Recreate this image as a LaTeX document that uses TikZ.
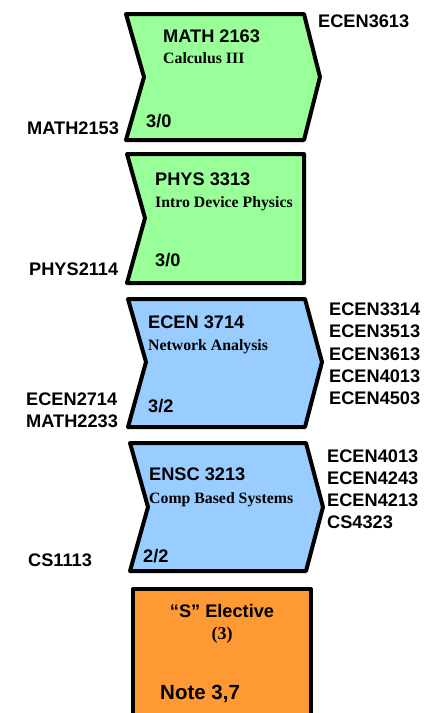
\documentclass[tikz,border=0pt]{standalone}
\usepackage{fontspec}
\setmainfont{Liberation Sans}
\newfontfamily\serifb{Liberation Serif}
\definecolor{cgreen}{HTML}{99FF99}
\definecolor{cblue}{HTML}{99CCFF}
\definecolor{corange}{HTML}{FF9933}
\tikzset{
  box/.style={line width=4pt, line join=round, draw=black},
  sanslab/.style={font=\fontsize{18.2}{20}\selectfont\bfseries, anchor=base west, inner sep=0pt},
  sublab/.style={font=\serifb\fontsize{15.8}{17}\selectfont\bfseries, anchor=base west, inner sep=0pt},
  notelab/.style={font=\fontsize{20.5}{22}\selectfont\bfseries, anchor=base west, inner sep=0pt},
}
\begin{document}
\begin{tikzpicture}[x=1pt,y=-1pt]
\useasboundingbox (0,0) rectangle (431,713);
% Box 1: MATH 2163
\draw[box, fill=cgreen] (126,14) -- (304,14) -- (320,77) -- (304,140) -- (126,140) -- (144,77) -- cycle;
\node[sanslab] (m2163) at (163,42) {MATH 2163};
\node[sublab] (calc) at (163,63) {Calculus III};
\node[sanslab] (cr1) at (146,127) {3/0};
\node[sanslab] (m2153) at (27,134) {MATH2153};
\node[sanslab] (e3613a) at (318,27) {ECEN3613};
% Box 2: PHYS 3313
\draw[box, fill=cgreen] (127,154) -- (304,154) -- (304,283) -- (127,283) -- (145,218) -- cycle;
\node[sanslab] (p3313) at (155,185) {PHYS 3313};
\node[sublab] (idp) at (155,207) {Intro Device Physics};
\node[sanslab] (cr2) at (155,266) {3/0};
\node[sanslab] (p2114) at (29,275) {PHYS2114};
% Box 3: ECEN 3714
\draw[box, fill=cblue] (128,299) -- (305,299) -- (322,362) -- (305,427) -- (128,427) -- (146,362) -- cycle;
\node[sanslab] (e3714) at (148,328) {ECEN 3714};
\node[sublab] (na) at (148,350) {Network Analysis};
\node[sanslab] (cr3) at (148,412) {3/2};
\node[sanslab] (e2714) at (26,405) {ECEN2714};
\node[sanslab] (m2233) at (26,427) {MATH2233};
\node[sanslab] (e3314) at (329,315) {ECEN3314};
\node[sanslab] (e3513) at (329,337) {ECEN3513};
\node[sanslab] (e3613b) at (329,360) {ECEN3613};
\node[sanslab] (e4013a) at (329,382) {ECEN4013};
\node[sanslab] (e4503) at (329,404) {ECEN4503};
% Box 4: ENSC 3213
\draw[box, fill=cblue] (130,443) -- (306,443) -- (323,507) -- (306,571) -- (130,571) -- (148,507) -- cycle;
\node[sanslab] (n3213) at (149,480) {ENSC 3213};
\node[sublab] (cbs) at (149,503) {Comp Based Systems};
\node[sanslab] (cr4) at (143,562) {2/2};
\node[sanslab] (c1113) at (28,566) {CS1113};
\node[sanslab] (e4013b) at (327,462) {ECEN4013};
\node[sanslab] (e4243) at (327,484) {ECEN4243};
\node[sanslab] (e4213) at (327,506) {ECEN4213};
\node[sanslab] (c4323) at (327,528) {CS4323};
% Box 5: S Elective
\begin{scope}
\clip (0,0) rectangle (431,713);
\draw[box, fill=corange] (133,589) rectangle (311,740);
\end{scope}
\node[sanslab, anchor=base] (sel) at (222,617) {“S” Elective};
\node[sublab, font=\serifb\fontsize{18}{20}\selectfont\bfseries, anchor=base] (three) at (222,639) {(3)};
\node[notelab] (note) at (160,699) {Note 3,7};
\end{tikzpicture}
\end{document}
